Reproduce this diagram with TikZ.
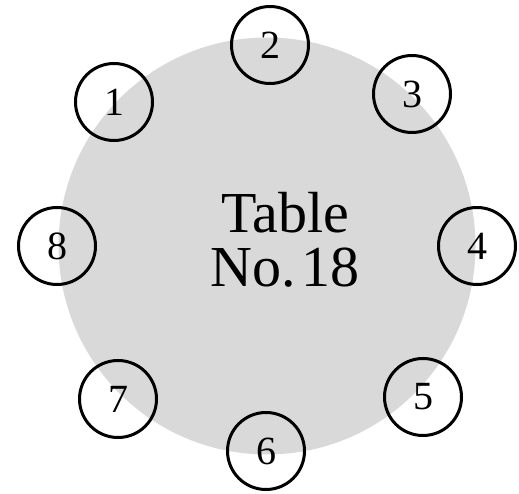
\documentclass[tikz,border=0pt]{standalone}
\usepackage{fontspec}
\setmainfont{Liberation Serif}
\usepackage{tikz}
\usetikzlibrary{positioning}
\tikzstyle{tabletop}=[circle, fill=black!15, minimum size=417pt, inner sep=0pt]
\tikzstyle{tablename}=[align=center, text=black, font=\fontsize{58}{54}\selectfont]
\tikzstyle{seat}=[circle, draw=black, line width=3pt, minimum size=77pt,
  inner sep=0pt, text=black, font=\fontsize{40}{40}\selectfont]

\begin{document}
\begin{tikzpicture}[x=1pt, y=-1pt]
    \useasboundingbox (0,0) rectangle (519,494);
    \node (table) [tabletop] at (267,246) {};
    \node (tablename) [tablename] at (285,240) {Table\\No.\hspace{6pt}18};
    \foreach \n/\x/\y in {1/114/102, 2/270/45, 3/412/94, 4/477/246,
                          5/423/397, 6/266/451, 7/118/399, 8/57/246}
      \node (seat\n) [seat] at (\x,\y) {\n};
\end{tikzpicture}
\end{document}
